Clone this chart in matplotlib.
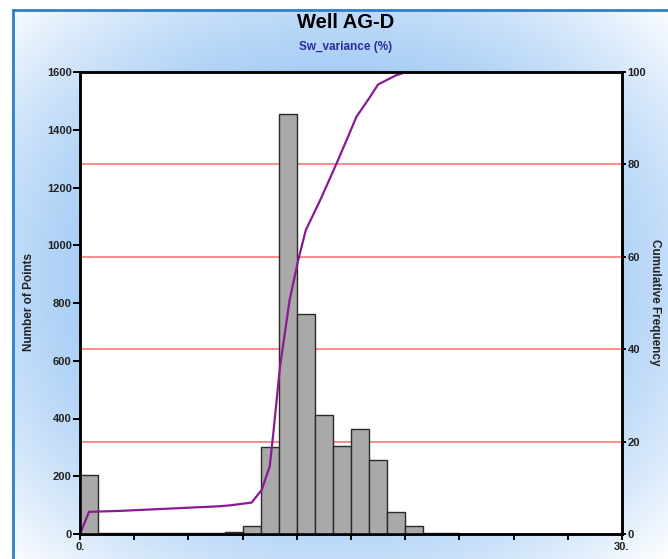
import numpy as np
import matplotlib.pyplot as plt

plt.rcParams['font.family'] = ['Liberation Sans', 'DejaVu Sans']

# histogram bins (left edge, width 1) and counts
bin_left = list(range(0, 21))
counts = [205, 2, 2, 3, 3, 3, 4, 4, 8, 28, 301, 1455, 762, 412, 305, 363, 256, 76, 28, 3, 2]

# cumulative frequency curve (%)
cum_x = [0, 0.5, 2.2, 4.4, 7.7, 8.3, 9.5, 10.05, 10.5, 10.7, 11.07, 11.6, 12.08,
         12.5, 13.3, 14.2, 14.76, 15.3, 15.95, 16.5, 17.5, 18.07, 19.4]
cum_pct = [0, 4.8, 5.0, 5.4, 6.0, 6.2, 6.8, 9.5, 14.6, 21.8, 36.2, 50.6, 59.3,
           65.8, 72.3, 80.2, 85.3, 90.3, 94.0, 97.3, 99.3, 100, 100]

left_ticks = [0, 200, 400, 600, 800, 1000, 1200, 1400, 1600]
right_ticks = [0, 20, 40, 60, 80, 100]
grid_pct = [20, 40, 60, 80]
x_ticks = list(range(0, 31, 3))
x_labels = ['0.'] + [''] * 9 + ['30.']

W, H = 668, 559
fig = plt.figure(figsize=(W / 100, H / 100), dpi=100)

# light blue radial background with a blue frame
bg = fig.add_axes([0, 0, 1, 1], zorder=-10)
yy, xx = np.mgrid[0:H, 0:W]
r = np.hypot((xx - W / 2) / (W / 2), (yy - H / 2) / (H / 2)) / np.sqrt(2)
t = np.clip((r - 0.45) / 0.55, 0, 1) ** 1.3
blue = np.array([0.63, 0.79, 0.96])
img = blue[None, None, :] * (1 - t[..., None]) + t[..., None]
img[(xx < 12) | (yy < 9)] = 1.0
bg.imshow(img, extent=[0, W, H, 0], aspect='auto')
bg.plot([12.5, 12.5], [H, 9.5], color='#2f7fd0', lw=2)
bg.plot([12.5, W], [9.5, 9.5], color='#2f7fd0', lw=2)
bg.set_xlim(0, W)
bg.set_ylim(H, 0)
bg.axis('off')

ax = fig.add_axes([80 / W, 25 / H, 542 / W, 462 / H])
ax2 = ax.twinx()
ax.set_zorder(ax2.get_zorder() + 1)
ax.patch.set_visible(False)
ax2.patch.set_visible(True)
ax2.patch.set_facecolor('white')

for p in grid_pct:
    ax2.axhline(p, color='#ff8080', lw=1.3)

ax.bar(bin_left, counts, width=1, align='edge', color='#a9a9a9',
       edgecolor='#2a2a2a', lw=1)
ax.plot(cum_x, cum_pct, color='#8b1a92', lw=1.6, transform=ax2.transData)

ax.set_xlim(0, 30)
ax.set_ylim(0, 1600)
ax2.set_ylim(0, 100)

ax.set_xticks(x_ticks)
ax.set_xticklabels(x_labels)
ax.set_yticks(left_ticks)
ax2.set_yticks(right_ticks)

ax.tick_params(axis='y', direction='out', length=5, width=1.4, pad=1, labelsize=8)
ax.tick_params(axis='x', direction='out', length=4, width=1.4, pad=2, labelsize=8)
ax2.tick_params(axis='y', direction='out', length=3, width=1.4, pad=1, labelsize=8)
for lab in ax.get_xticklabels() + ax.get_yticklabels() + ax2.get_yticklabels():
    lab.set_fontweight('bold')
    lab.set_color('#222222')

for a in (ax, ax2):
    for s in a.spines.values():
        s.set_linewidth(1.8)
        s.set_color('black')

fig.text(346 / W, 1 - 22 / H, 'Well AG-D', ha='center', va='center',
         fontsize=14.5, fontweight='bold')
fig.text(346 / W, 1 - 47 / H, 'Sw_variance (%)', ha='center', va='center',
         fontsize=8.5, fontweight='bold', color='#2b2b9c')
fig.text(29 / W, 1 - 302 / H, 'Number of Points', ha='center', va='center',
         rotation=90, fontsize=8.5, fontweight='bold', color='#222222')
fig.text(655 / W, 1 - 302 / H, 'Cumulative Frequency', ha='center', va='center',
         rotation=270, fontsize=8.5, fontweight='bold', color='#222222')

fig.savefig('out.png', dpi=100)
